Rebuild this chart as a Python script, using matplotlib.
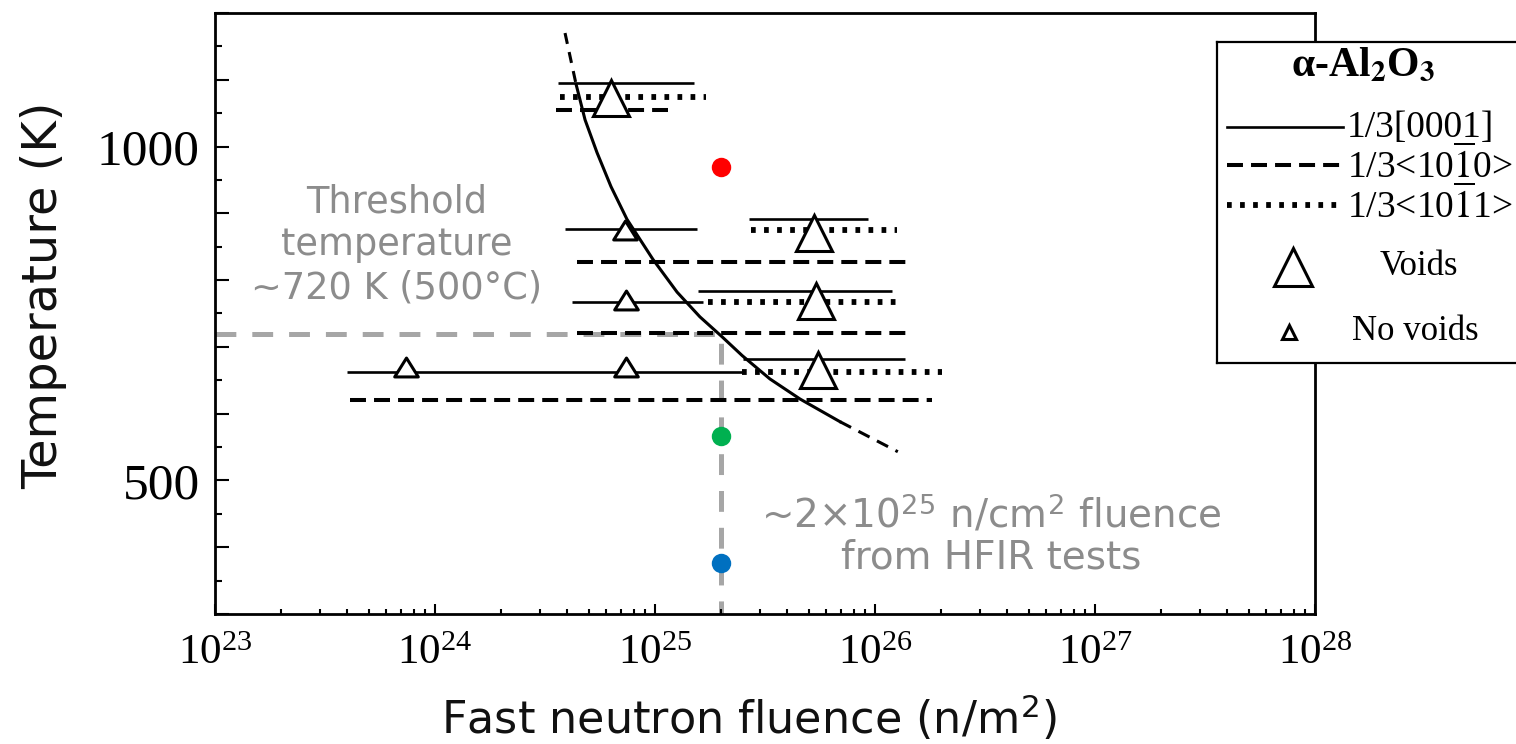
import matplotlib
matplotlib.use('Agg')
import matplotlib.pyplot as plt
from matplotlib.path import Path
from matplotlib.ticker import FixedLocator, MultipleLocator, FuncFormatter, LogLocator

plt.rcParams['font.family'] = ['Liberation Serif', 'DejaVu Serif']
plt.rcParams['mathtext.fontset'] = 'stix'
plt.rcParams['lines.scale_dashes'] = False

LABEL_FONT = 'DejaVu Sans'
GRAY = '#8c8c8c'

# void threshold curve (fluence in n/m^2, temperature in K)
curve_fluence = [3.90e24, 4.38e24, 4.81e24, 5.45e24, 6.31e24, 7.46e24, 9.79e24, 1.26e25,
                 1.60e25, 2.02e25, 2.49e25, 3.33e25, 4.56e25, 6.93e25, 1.27e26]
curve_temp = [1170, 1093, 1040, 991, 940, 891, 831, 782, 745, 715, 687, 652, 622, 588, 543]

# irradiation ranges per Burgers vector: temperature, fluence from, fluence to
basal_temp = [1095, 877, 891, 767, 783, 663, 682]
basal_lo = [3.63e24, 3.9e24, 2.67e25, 4.2e24, 1.57e25, 4.0e23, 2.5e25]
basal_hi = [1.51e25, 1.55e25, 9.3e25, 1.65e25, 1.19e26, 2.5e25, 1.37e26]

prism_temp = [1054, 827, 721, 621]
prism_lo = [3.55e24, 4.4e24, 4.4e24, 4.1e23]
prism_hi = [1.15e25, 1.47e26, 1.49e26, 1.82e26]

pyramid_temp = [1074, 875, 767, 662]
pyramid_lo = [3.7e24, 2.73e25, 1.74e25, 2.48e25]
pyramid_hi = [1.7e25, 1.26e26, 1.24e26, 2.02e26]

voids_fluence = [6.3e24, 5.28e25, 5.4e25, 5.5e25]
voids_temp = [1072, 870, 768, 666]
novoids_fluence = [7.3e24, 7.4e24, 7.4e23, 7.4e24]
novoids_temp = [875, 770, 670, 670]

# HFIR test conditions
hfir_fluence = 2e25
threshold_temp = 720
dot_temp = [969, 567, 376]
dot_colors = ['#ff0000', '#00b050', '#0070c0']

key_labels = ['1/3[0001]', r'1/3<10$\overline{1}$0>', r'1/3<10$\overline{1}$1>']

SOLID = dict(color='black', lw=1.9, linestyle='-')
DASHED = dict(color='black', lw=2.9, linestyle=(0, (11.5, 5.8)))
DOTTED = dict(color='black', lw=4.2, linestyle=(0, (3.4, 6.0)))
# flat triangle for the "no voids" points
small_tri = Path([(-1, -0.8), (1, -0.8), (0, 0.8), (-1, -0.8)],
                 [Path.MOVETO, Path.LINETO, Path.LINETO, Path.CLOSEPOLY])

fig = plt.figure(figsize=(15.16, 7.44), dpi=100)
ax = fig.add_axes([0.14182, 0.17473, 0.72559, 0.80780])
ax.set_xscale('log')
xmin, xmax, ymin, ymax = 1e23, 1e28, 300, 1200
ax.set_xlim(xmin, xmax)
ax.set_ylim(ymin, ymax)

ax.hlines(basal_temp, basal_lo, basal_hi, colors='black', linewidth=SOLID['lw'], zorder=2)
ax.hlines(prism_temp, prism_lo, prism_hi, colors='black', linewidth=DASHED['lw'],
          linestyles=[DASHED['linestyle']], zorder=2)
ax.hlines(pyramid_temp, pyramid_lo, pyramid_hi, colors='black', linewidth=DOTTED['lw'],
          linestyles=[DOTTED['linestyle']], zorder=2)

ax.plot(voids_fluence, voids_temp, linestyle='none', marker='^', ms=26.6,
        mfc='white', mec='black', mew=2.2, zorder=3)
ax.plot(novoids_fluence, novoids_temp, linestyle='none', marker=small_tri, ms=17,
        mfc='white', mec='black', mew=2.2, zorder=3)

# threshold curve: dashed extrapolation at both ends
ax.plot(curve_fluence[:2], curve_temp[:2], color='black', lw=2.2,
        linestyle=(0, (8, 6)), zorder=4)
ax.plot(curve_fluence[1:-1], curve_temp[1:-1], color='black', lw=2.2, zorder=4)
ax.plot(curve_fluence[-2:], curve_temp[-2:], color='black', lw=2.2,
        linestyle=(0, (9, 6)), zorder=4)

ax.plot([xmin, hfir_fluence, hfir_fluence], [threshold_temp, threshold_temp, ymin],
        color='#a6a6a6', lw=3.6, linestyle=(0, (15, 11.5)), zorder=1.5,
        solid_joinstyle='miter', dash_capstyle='butt')
for t, c in zip(dot_temp, dot_colors):
    ax.plot(hfir_fluence, t, 'o', ms=14, color=c, mec='none', zorder=6)

ax.text(0.1655, 0.614, 'Threshold\ntemperature\n~720 K (500°C)', transform=ax.transAxes,
        ha='center', va='center', color=GRAY, family=LABEL_FONT, size=26.5,
        linespacing=1.22)
ax.text(0.706, 0.131,
        '~2×10$^{\\mathregular{25}}$ n/cm$^{\\mathregular{2}}$ fluence\nfrom HFIR tests',
        transform=ax.transAxes, ha='center', va='center', color=GRAY,
        family=LABEL_FONT, size=28, linespacing=1.12)

# axes styling
for s in ax.spines.values():
    s.set_linewidth(2.0)
ax.yaxis.set_major_locator(FixedLocator(list(range(300, 1201, 100))))
ax.yaxis.set_minor_locator(MultipleLocator(50))
ax.yaxis.set_major_formatter(FuncFormatter(lambda v, p: '%d' % v if v in (500, 1000) else ''))
ax.xaxis.set_major_locator(LogLocator(base=10, numticks=10))
ax.xaxis.set_minor_locator(LogLocator(base=10, subs=range(2, 10), numticks=100))
ax.tick_params(axis='both', which='both', direction='in', top=False, right=False, width=1.5)
ax.tick_params(axis='y', which='major', length=10, labelsize=37, pad=11)
ax.tick_params(axis='y', which='minor', length=5)
ax.tick_params(axis='x', which='major', length=7, labelsize=31, pad=15)
ax.tick_params(axis='x', which='minor', length=3.6)

ax.set_xlabel('Fast neutron fluence (n/m$^{\\mathregular{2}}$)', family=LABEL_FONT,
              size=32, color='#111111')
ax.xaxis.set_label_coords(0.486, -0.132)
ax.set_ylabel('Temperature (K)', family=LABEL_FONT, size=34.5, color='#111111')
ax.yaxis.set_label_coords(-0.1345, 0.531)

# key box, partly running off the right edge
key = fig.add_axes([0.8028, 0.5121, 0.2065, 0.4315], zorder=3)
key.set_xlim(0, 313)
key.set_ylim(321, 0)
key.set_xticks([])
key.set_yticks([])
for s in key.spines.values():
    s.set_linewidth(1.6)
key.text(146, 34, r'α-Al$_{\mathbf{2}}$O$_{\mathbf{3}}$', ha='center', va='baseline',
         weight='bold', size=30)
row_y = [85, 123, 163]
for y, style, label in zip(row_y, [SOLID, DASHED, DOTTED], key_labels):
    key.plot([10, 126], [y, y], **style)
    key.text(130, y + 1, label, ha='left', va='center', size=27)
key.plot(76, 225, marker='^', ms=27.4, mfc='white', mec='black', mew=2.2)
key.text(163, 225, 'Voids', ha='left', va='center', size=25)
key.plot(72, 290, marker='^', ms=10, mfc='white', mec='black', mew=2.2)
key.text(135, 290, 'No voids', ha='left', va='center', size=25)

fig.savefig('out.png', dpi=100)
